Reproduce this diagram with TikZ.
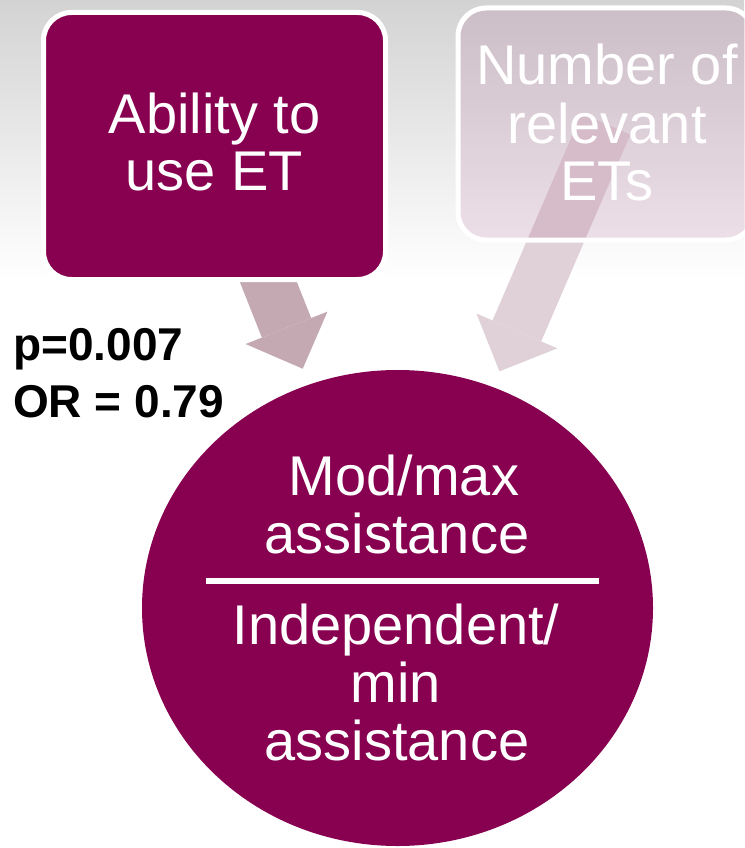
\documentclass[tikz,border=0pt]{standalone}
\usepackage{fontspec}
\setmainfont{Liberation Sans}
\usepackage{xcolor}
\definecolor{maroon}{HTML}{880050}
\definecolor{arrowdark}{HTML}{C4A9B3}
\definecolor{arrowlight}{HTML}{DFD1D7}
\definecolor{topgray}{HTML}{D3D3D3}
\usetikzlibrary{
  arrows.meta,
  positioning,
  shapes.geometric,
  calc
}
\pgfdeclarelayer{bg}
\pgfdeclarelayer{arrows}
\pgfsetlayers{bg,arrows,main}

\begin{document}
\begin{tikzpicture}[x=1pt, y=-1pt,
  factor/.style={rectangle, rounded corners=28pt, draw=white, line width=5pt, inner sep=0pt},
  outcome/.style={ellipse, fill=maroon, inner sep=0pt, minimum width=511pt, minimum height=476pt},
  big/.style={font=\fontsize{56}{58}\selectfont, text=white, inner sep=0pt, anchor=base},
  stat/.style={font=\fontsize{46}{57}\selectfont\bfseries, text=black, inner sep=0pt, anchor=base west},
  blockarr/.style={line width=53pt, -{Triangle[length=44pt, width=88pt, line width=0pt]}, shorten >=17pt},
]
\useasboundingbox (0,0) rectangle (744,848);

% Hintergrund
\begin{pgfonlayer}{bg}
  \fill[white] (0,0) rectangle (744,848);
  \shade[top color=topgray, bottom color=white] (0,0) rectangle (744,280);
\end{pgfonlayer}

% Faktoren
\node[factor, fill=maroon, minimum width=342pt, minimum height=267pt] (ability) at (214.5,146) {};
\node[factor, fill=maroon, fill opacity=0.1, minimum width=296pt, minimum height=232pt] (number) at (606,124) {};
\node[outcome] (outcome) at (397.5,608) {};

\node[big] (abil1) at (214.5,133) {Ability to};
\node[big] (abil2) at (214.5,190) {use ET};
\node[big] (num1) at (607,85) {Number of};
\node[big] (num2) at (607,143) {relevant};
\node[big] (num3) at (607,200) {ETs};

% Ergebnis
\node[big] (mod1) at (404,495) {Mod/max};
\node[big] (mod2) at (397,553) {assistance};
\coordinate (divl) at (206,580.5);
\coordinate (divr) at (599,580.5);
\draw[white, line width=6pt] (divl) -- (divr);
\node[big] (ind1) at (396,644) {Independent/};
\node[big] (ind2) at (396,702) {min};
\node[big] (ind3) at (397,760) {assistance};

\node[stat] (pval) at (13,360) {p=0.007};
\node[stat] (oddsr) at (13,417) {OR = 0.79};

% Pfeile
\begin{pgfonlayer}{arrows}
  \draw[blockarr, arrowdark] (ability.center) -- (outcome);
  \draw[blockarr, arrowlight] (number.center) -- (outcome);
\end{pgfonlayer}

\end{tikzpicture}
\end{document}
